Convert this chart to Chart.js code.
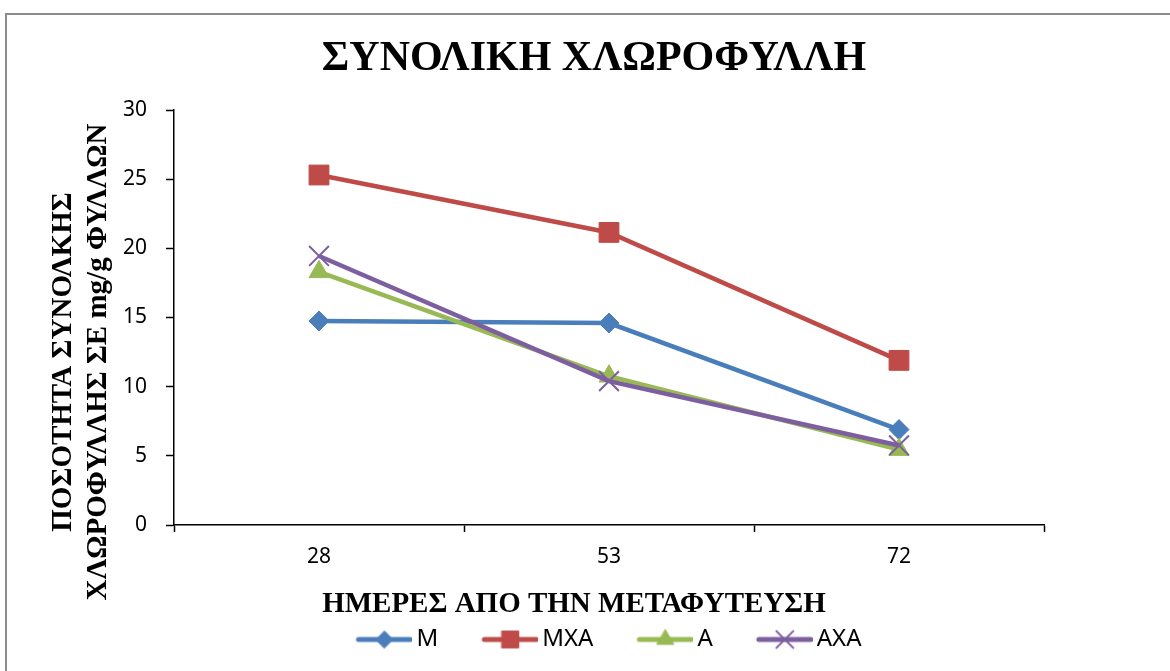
<!DOCTYPE html>
<html>
<head>
<meta charset="utf-8">
<script src="https://cdn.jsdelivr.net/npm/chart.js@4.4.1/dist/chart.umd.min.js"></script>
<style>
  html, body { margin: 0; padding: 0; background: #fff; }
  #wrap  { position: relative; width: 1170px; height: 671px; overflow: hidden; }
  #frame { position: absolute; left: 5px; top: 13px; width: 1200px; height: 700px;
           border: 2px solid #8c8c8c; box-sizing: border-box; }
  #chart { position: absolute; left: 0; top: 0; }
</style>
</head>
<body>
<div id="wrap">
  <div id="frame"></div>
  <canvas id="chart" width="1170" height="671"></canvas>
</div>
<script>
/* ---------- données ---------- */
const DAYS       = ["28", "53", "72"];
const M_VALUES   = [14.75, 14.6, 6.9];
const MXA_VALUES = [25.3, 21.15, 11.9];
const A_VALUES   = [18.3, 10.75, 5.45];
const AXA_VALUES = [19.45, 10.4, 5.75];
const Y_TICKS    = [0, 5, 10, 15, 20, 25, 30];

const TITLE   = "ΣΥΝΟΛΙΚΗ ΧΛΩΡΟΦΥΛΛΗ";
const Y_TITLE = ["ΠΟΣΟΤΗΤΑ ΣΥΝΟΛΚΗΣ", "ΧΛΩΡΟΦΥΛΛΗΣ ΣΕ mg/g ΦΥΛΛΩΝ"];
const X_TITLE = "ΗΜΕΡΕΣ ΑΠΟ ΤΗΝ ΜΕΤΑΦΥΤΕΥΣΗ";

const SERIF = "'Liberation Serif', 'Times New Roman', serif";
const SANS  = "'Noto Sans', 'Open Sans', sans-serif";

/* ---------- séries ---------- */
const SERIES = [
  { label: "M",   data: M_VALUES,   color: "#4a7ebb", style: "rectRot",  radius: 10,   order: 3 },
  { label: "MXA", data: MXA_VALUES, color: "#be4b48", style: "rect",     radius: 14,   order: 2 },
  { label: "A",   data: A_VALUES,   color: "#98b954", style: "triangle", radius: 11.5, order: 1 },
  { label: "AXA", data: AXA_VALUES, color: "#7d5fa0", style: "crossRot", radius: 14,   order: 0 }
];

// petite image "ligne + marqueur" pour la légende
function legendSwatch(s) {
  const c = document.createElement("canvas");
  c.width = 64; c.height = 26;
  const ctx = c.getContext("2d");
  ctx.strokeStyle = s.color;
  ctx.lineWidth = 5;
  ctx.lineCap = "round";
  ctx.beginPath(); ctx.moveTo(10, 13); ctx.lineTo(62, 13); ctx.stroke();
  ctx.fillStyle = s.color;
  ctx.lineWidth = s.style === "crossRot" ? 2 : 1;
  Chart.helpers.drawPoint(ctx, { pointStyle: s.style, radius: s.radius * 0.85, borderWidth: ctx.lineWidth }, 36, 13);
  return c;
}

const datasets = SERIES.map(s => ({
  label: s.label,
  data: s.data,
  order: s.order,
  borderColor: s.color,
  backgroundColor: s.color,
  borderWidth: 4.5,
  tension: 0,
  pointStyle: s.style,
  pointRadius: s.radius,
  pointHoverRadius: s.radius,
  pointBackgroundColor: s.color,
  pointBorderColor: s.color,
  pointBorderWidth: s.style === "crossRot" ? 2 : 1,
  swatch: legendSwatch(s)
}));

/* ---------- textes (titre + titres des axes) ---------- */
const textsPlugin = {
  id: "texts",
  afterDraw(chart) {
    const ctx = chart.ctx;
    ctx.save();
    ctx.fillStyle = "#000";
    ctx.textAlign = "center";
    ctx.textBaseline = "middle";

    ctx.font = "bold 42px " + SERIF;
    ctx.fillText(TITLE, 594, 59);

    ctx.font = "bold 29px " + SERIF;
    ctx.fillText(X_TITLE, 574, 605);

    [64, 99].forEach((x, i) => {
      ctx.save();
      ctx.translate(x, 362);
      ctx.rotate(-Math.PI / 2);
      ctx.fillText(Y_TITLE[i], 0, 0);
      ctx.restore();
    });
    ctx.restore();
  }
};

new Chart(document.getElementById("chart"), {
  type: "line",
  data: { labels: DAYS, datasets },
  options: {
    responsive: false,
    animation: false,
    events: [],
    layout: { padding: { left: 0, right: 126, top: 110, bottom: 9.5 } },
    plugins: {
      title: { display: false },
      tooltip: { enabled: false },
      legend: {
        position: "bottom",
        fullSize: false,
        labels: {
          usePointStyle: true,
          pointStyleWidth: 48,
          boxHeight: 24,
          padding: 44,
          color: "#000",
          font: { family: SANS, size: 24 },
          sort: (a, b) => a.datasetIndex - b.datasetIndex,
          generateLabels: chart => chart.data.datasets.map((d, i) => ({
            text: d.label,
            datasetIndex: i,
            pointStyle: d.swatch,
            fillStyle: d.borderColor,
            strokeStyle: d.borderColor,
            lineWidth: 0,
            hidden: false
          }))
        }
      }
    },
    scales: {
      x: {
        offset: true,
        afterFit: s => { s.height = 58.5; },
        grid: { offset: true, drawOnChartArea: false, tickLength: 7, tickColor: "#000", tickWidth: 1.5 },
        border: { color: "#000", width: 1.5 },
        ticks: { color: "#000", padding: 12, font: { family: SANS, size: 21 } }
      },
      y: {
        min: 0,
        max: 30,
        afterFit: s => { s.width = 174; },
        afterBuildTicks: s => { s.ticks = Y_TICKS.map(v => ({ value: v })); },
        grid: { drawOnChartArea: false, tickLength: 8, tickColor: "#000", tickWidth: 1.5 },
        border: { color: "#000", width: 1.5 },
        ticks: { color: "#000", padding: 19, font: { family: SANS, size: 21 } }
      }
    }
  },
  plugins: [textsPlugin]
});
</script>
</body>
</html>
